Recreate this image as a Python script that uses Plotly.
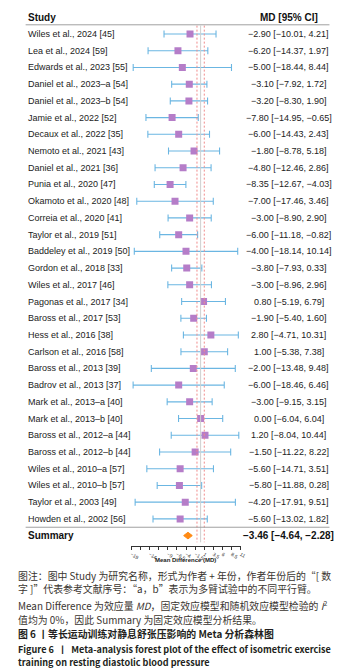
import plotly.graph_objects as go

studies = [
    "Wiles et al., 2024 [45]", "Lea et al., 2024 [59]", "Edwards et al., 2023 [55]",
    "Daniel et al., 2023–a [54]", "Daniel et al., 2023–b [54]", "Jamie et al., 2022 [52]",
    "Decaux et al., 2022 [35]", "Nemoto et al., 2021 [43]", "Daniel et al., 2021 [36]",
    "Punia et al., 2020 [47]", "Okamoto et al., 2020 [48]", "Correia et al., 2020 [41]",
    "Taylor et al., 2019 [51]", "Baddeley et al., 2019 [50]", "Gordon et al., 2018 [33]",
    "Wiles et al., 2017 [46]", "Pagonas et al., 2017 [34]", "Baross et al., 2017 [53]",
    "Hess et al., 2016 [38]", "Carlson et al., 2016 [58]", "Baross et al., 2013 [39]",
    "Badrov et al., 2013 [37]", "Mark et al., 2013–a [40]", "Mark et al., 2013–b [40]",
    "Baross et al., 2012–a [44]", "Baross et al., 2012–b [44]", "Wiles et al., 2010–a [57]",
    "Wiles et al., 2010–b [57]", "Taylor et al., 2003 [49]", "Howden et al., 2002 [56]",
]
md = [-2.90, -6.20, -5.00, -3.10, -3.20, -7.80, -6.00, -1.80, -4.80, -8.35,
      -7.00, -3.00, -6.00, -4.00, -3.80, -3.00, 0.80, -1.90, 2.80, 1.00,
      -2.00, -6.00, -3.00, 0.00, 1.20, -1.50, -5.60, -5.80, -4.20, -5.60]
ci_lo = [-10.01, -14.37, -18.44, -7.92, -8.30, -14.95, -14.43, -8.78, -12.46, -12.67,
         -17.46, -8.90, -11.18, -18.14, -7.93, -8.96, -5.19, -5.40, -4.71, -5.38,
         -13.48, -18.46, -9.15, -6.04, -8.04, -11.22, -14.71, -11.88, -17.91, -13.02]
ci_hi = [4.21, 1.97, 8.44, 1.72, 1.90, -0.65, 2.43, 5.18, 2.86, -4.03,
         3.46, 2.90, -0.82, 10.14, 0.33, 2.96, 6.79, 1.60, 10.31, 7.38,
         9.48, 6.46, 3.15, 6.04, 10.44, 8.22, 3.51, 0.28, 9.51, 1.82]
summary_md = -3.46
summary_lo = -4.64
summary_hi = -2.28
tick_vals = [-19, -14, -9, -6.5, -4, -1.5, 1, 3.5, 6, 8.5, 11]
tick_text = ["−19", "−14", "−9", "−6.5", "−4", "−1.5", "1", "3.5", "6", "8.5", "11"]
minor_tick_vals = [-16.5, -11.5]

W, H = 347, 671
FONT = "Liberation Sans, Arial, sans-serif"
CJK = "Noto Sans CJK SC, sans-serif"


def fmt(v):
    s = f"{v:.2f}"
    return s.replace("-", "−")


rows = list(range(len(studies)))
sum_row = len(studies)

fig = go.Figure()

# CI bars + squares
fig.add_trace(go.Scatter(
    x=md, y=rows, mode="markers",
    marker=dict(symbol="square", size=7, color="#B57DC8", line=dict(width=0)),
    error_x=dict(type="data", symmetric=False,
                 array=[h - m for h, m in zip(ci_hi, md)],
                 arrayminus=[m - l for m, l in zip(md, ci_lo)],
                 color="#6BB6E2", thickness=1.1, width=3.5),
    hoverinfo="skip", showlegend=False,
))

# summary diamond
fig.add_trace(go.Scatter(
    x=[summary_lo, summary_md, summary_hi, summary_md, summary_lo],
    y=[sum_row, sum_row - 0.2, sum_row, sum_row + 0.2, sum_row],
    mode="lines", fill="toself", fillcolor="#FF8A14",
    line=dict(color="#FF8A14", width=1), hoverinfo="skip", showlegend=False,
))

shapes = []
# reference lines
shapes.append(dict(type="line", xref="x", yref="y", x0=0, x1=0, y0=-0.5, y1=30.4,
                   line=dict(color="#CFCFCF", width=1)))
for xv in (-1, 1):
    shapes.append(dict(type="line", xref="x", yref="y", x0=xv, x1=xv, y0=-0.5, y1=30.4,
                       line=dict(color="#F08A8A", width=1, dash="2px,2px")))
# separators
for yv in (-0.55, sum_row - 0.5):
    shapes.append(dict(type="line", xref="paper", yref="y", x0=16 / W, x1=327 / W,
                       y0=yv, y1=yv, line=dict(color="#A0A0A0", width=1)))

ann = []
ann.append(dict(text="<b>Study</b>", x=16 / W, y=-1, xref="paper", yref="y",
                xanchor="left", yanchor="middle", showarrow=False,
                font=dict(family=FONT, size=10, color="#111")))
ann.append(dict(text="<b>MD [95% CI]</b>", x=285.5 / W, y=-1, xref="paper", yref="y",
                xanchor="center", yanchor="middle", showarrow=False,
                font=dict(family=FONT, size=10, color="#111")))
for i, s in enumerate(studies):
    ann.append(dict(text=s, x=16 / W, y=i, xref="paper", yref="y",
                    xanchor="left", yanchor="middle", showarrow=False,
                    font=dict(family=FONT, size=9, color="#222")))
    ann.append(dict(text=f"{fmt(md[i])} [{fmt(ci_lo[i])}, {fmt(ci_hi[i])}]",
                    x=285.5 / W, y=i, xref="paper", yref="y",
                    xanchor="center", yanchor="middle", showarrow=False,
                    font=dict(family=FONT, size=9, color="#222")))
ann.append(dict(text="<b>Summary</b>", x=16 / W, y=sum_row, xref="paper", yref="y",
                xanchor="left", yanchor="middle", showarrow=False,
                font=dict(family=FONT, size=10, color="#111")))
ann.append(dict(text=f"<b>{fmt(summary_md)} [{fmt(summary_lo)}, {fmt(summary_hi)}]</b>",
                x=285.5 / W, y=sum_row, xref="paper", yref="y",
                xanchor="center", yanchor="middle", showarrow=False,
                font=dict(family=FONT, size=10, color="#111")))
# axis title
ann.append(dict(text="<b>Mean Difference (MD)</b>", x=180 / W, y=1 - 551.5 / H,
                xref="paper", yref="paper", xanchor="center", yanchor="middle",
                showarrow=False, font=dict(family=FONT, size=6, color="#222")))

caption = [
    (567.5, "图注：图中 Study 为研究名称，形式为作者 + 年份，作者年份后的“[ 数", 9.9, False),
    (580.5, "字 ]”代表参考文献序号：“a，b”表示为多臂试验中的不同平行臂。", 9.9, False),
    (597.0, "Mean Difference 为效应量 <i>MD</i>，固定效应模型和随机效应模型检验的 <i>I</i><sup>2</sup>", 9.9, False),
    (612.3, "值均为 0%，因此 Summary 为固定效应模型分析结果。", 9.9, False),
    (626.0, "图 6 丨等长运动训练对静息舒张压影响的 Meta 分析森林图", 9.9, True),
    (641.3, "Figure 6  丨  Meta-analysis forest plot of the effect of isometric exercise", 9.1, True),
    (653.5, "training on resting diastolic blood pressure", 9.1, True),
]
for ypx, txt, fs, bold in caption:
    ann.append(dict(text=(f"<b>{txt}</b>" if bold else txt), x=6 / W, y=1 - ypx / H,
                    xref="paper", yref="paper", xanchor="left", yanchor="middle",
                    showarrow=False,
                    font=dict(family=CJK, size=fs, color="#231F20" if bold else "#3A3530")))

y_top = -26 / 16.72
y_bot = (537.7 - 26) / 16.72

fig.update_layout(
    width=W, height=H, margin=dict(l=0, r=0, t=0, b=0),
    paper_bgcolor="white", plot_bgcolor="rgba(0,0,0,0)",
    xaxis=dict(domain=[124 / W, 236.3 / W], range=[-19, 11], showgrid=False,
               zeroline=False, showline=True, linecolor="#333", linewidth=1,
               ticks="outside", ticklen=3, tickcolor="#333", tickwidth=1,
               tickmode="array", tickvals=tick_vals, ticktext=tick_text,
               tickfont=dict(family=FONT, size=5, color="#333"),
               minor=dict(tickmode="array", tickvals=minor_tick_vals, ticks="outside",
                          ticklen=3, tickcolor="#333", tickwidth=1, showgrid=False)),
    yaxis=dict(domain=[1 - 537.7 / H, 1], range=[y_bot, y_top], visible=False,
               showgrid=False, zeroline=False),
    shapes=shapes, annotations=ann, showlegend=False,
)

fig.write_html("out.html")
